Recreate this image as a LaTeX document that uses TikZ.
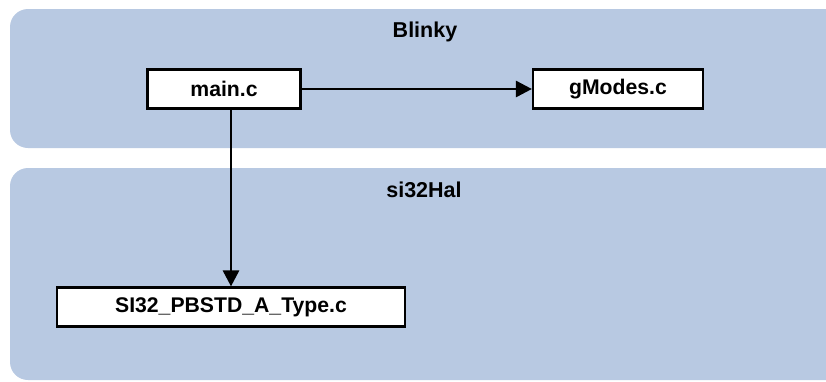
\documentclass[tikz,border=0pt]{standalone}
\usepackage{fontspec}
\setmainfont{Liberation Sans}
\usetikzlibrary{arrows.meta}
\definecolor{grp}{RGB}{184,201,226}
\begin{document}
\begin{tikzpicture}[x=1pt,y=-1pt,
  grpbox/.style={fill=grp,draw=none,rounded corners=18pt},
  file/.style={draw=black,line width=2.2pt,fill=white,minimum height=39pt,inner sep=0pt,font=\fontsize{21.2}{23}\selectfont\bfseries},
  grplabel/.style={font=\fontsize{21.5}{23}\selectfont\bfseries,inner sep=0pt,anchor=base},
  dep/.style={line width=2.8pt,-{Triangle[length=16pt,width=16pt]}}]
\useasboundingbox (0,0) rectangle (826,381);
\clip (0,0) rectangle (826,381);
\fill[grpbox] (10,9) rectangle (845,148);
\fill[grpbox] (10,168) rectangle (845,380);
\node[grplabel] (blinky) at (425,37) {Blinky};
\node[grplabel] (hal) at (424,197) {si32Hal};
\node[file,minimum width=153pt] (main) at (224,89) {main.c};
\node[file,minimum width=170pt] (gmodes) at (618,89) {gModes.c};
\node[file,minimum width=348pt] (si) at (231,307) {SI32\_PBSTD\_A\_Type.c};
\draw[dep] (main) -- (gmodes);
\draw[dep] (main.south -| 231,0) -- (si.north -| 231,0);
\end{tikzpicture}
\end{document}
